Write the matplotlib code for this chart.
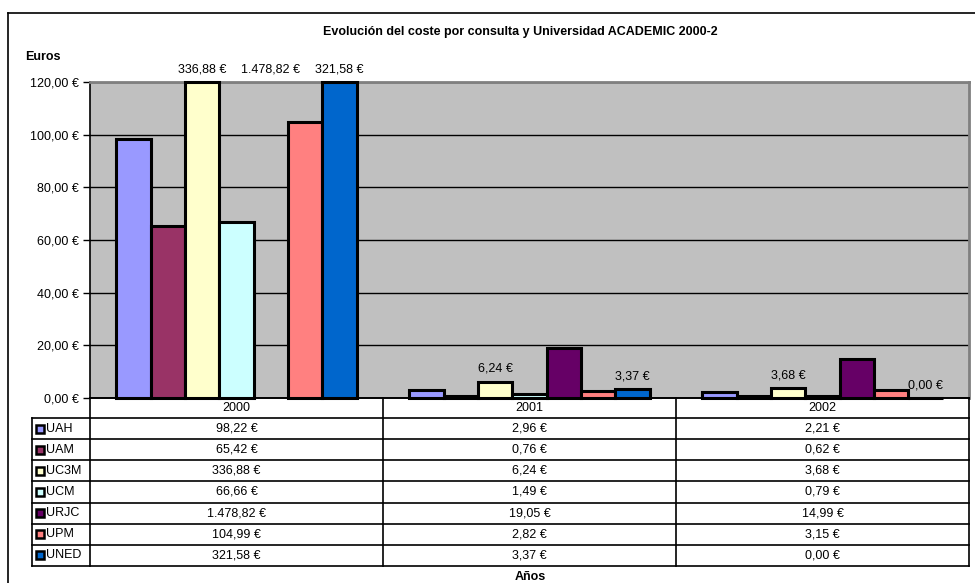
import matplotlib
matplotlib.use("Agg")
import matplotlib.pyplot as plt
from matplotlib.lines import Line2D
from matplotlib.patches import Rectangle

plt.rcParams['font.family'] = ['Liberation Sans', 'DejaVu Sans']

years = ["2000", "2001", "2002"]
universities = ["UAH", "UAM", "UC3M", "UCM", "URJC", "UPM", "UNED"]
uah = [98.22, 2.96, 2.21]
uam = [65.42, 0.76, 0.62]
uc3m = [336.88, 6.24, 3.68]
ucm = [66.66, 1.49, 0.79]
urjc = [1478.82, 19.05, 14.99]
upm = [104.99, 2.82, 3.15]
uned = [321.58, 3.37, 0.00]
series = [uah, uam, uc3m, ucm, urjc, upm, uned]
colors = ["#9999FF", "#993366", "#FFFFCC", "#CCFFFF", "#660066", "#FF8080", "#0066CC"]
# which (series, year) pairs carry a data label in the original
labelled = [("UC3M", 0), ("UC3M", 1), ("UC3M", 2), ("URJC", 0),
            ("UNED", 0), ("UNED", 1), ("UNED", 2)]
yticks = [0, 20, 40, 60, 80, 100, 120]
title = "Evolución del coste por consulta y Universidad ACADEMIC 2000-2"

W, H = 975, 583
FS = 9.0


def fmt(v):
    s = f"{v:,.2f}"
    s = s.replace(",", "X").replace(".", ",").replace("X", ".")
    return s + " €"


def fx(px):
    return px / W


def fy(py):
    return 1 - py / H


fig = plt.figure(figsize=(W / 100, H / 100), dpi=100)
fig.patch.set_facecolor("white")

# plot area
L, R, T, B = 90, 969, 82, 398
ax = fig.add_axes([fx(L), fy(B), fx(R) - fx(L), fy(T) - fy(B)])
ax.set_facecolor("#C0C0C0")
ymax = 120
ax.set_ylim(0, ymax)
ax.set_xlim(-0.5, 2.5)
ax.set_yticks(yticks)
ax.set_yticklabels([fmt(t) for t in yticks], fontsize=FS)
ax.set_xticks([])
ax.tick_params(axis='y', length=5, width=1, direction='out', pad=3)
ax.grid(axis='y', color='black', linewidth=1)
ax.set_axisbelow(True)
for side in ['top', 'right']:
    ax.spines[side].set_color('#808080')
    ax.spines[side].set_linewidth(2)
ax.spines['left'].set_linewidth(1.2)
ax.spines['bottom'].set_linewidth(1.2)

n = len(series)
w = 34.3 / 293.0
for i, (name, vals, c) in enumerate(zip(universities, series, colors)):
    for g, v in enumerate(vals):
        xc = g + (i - (n - 1) / 2) * w
        # Excel does not render bars far beyond the axis maximum
        if v <= 10 * ymax:
            ax.bar(xc, min(v, ymax), width=w, color=c, edgecolor='black',
                   linewidth=2.2, zorder=3, clip_on=False)
        if (name, g) in labelled:
            top = min(v, ymax)
            ax.annotate(fmt(v), (xc, top), xytext=(0, 5), textcoords='offset points',
                        ha='center', va='bottom', fontsize=FS, clip_on=False,
                        annotation_clip=False)

# data table
TL, TB = 32, 566
tax = fig.add_axes([fx(TL), fy(TB), fx(R) - fx(TL), fy(B) - fy(TB)])
tax.set_xlim(TL, R)
tax.set_ylim(TB, B)
tax.axis('off')
hdr = 418
rowh = (TB - hdr) / n
colw = (R - L) / len(years)
lw = 1.2
# header row
tax.plot([L, R], [B, B], color='black', lw=lw, clip_on=False)
for k in range(len(years) + 1):
    xk = L + k * colw
    tax.plot([xk, xk], [B, TB], color='black', lw=lw, clip_on=False)
for k, yname in enumerate(years):
    tax.text(L + (k + 0.5) * colw, (B + hdr) / 2, yname, ha='center', va='center', fontsize=FS)
# rows
for r in range(n + 1):
    yr = hdr + r * rowh
    tax.plot([TL, R], [yr, yr], color='black', lw=lw, clip_on=False)
tax.plot([TL, TL], [hdr, TB], color='black', lw=lw, clip_on=False)
for r, (name, vals, c) in enumerate(zip(universities, series, colors)):
    yc = hdr + (r + 0.5) * rowh
    tax.add_patch(Rectangle((36, yc - 4), 8, 8, facecolor=c, edgecolor='black',
                            lw=1.8, clip_on=False))
    tax.text(46, yc, name, ha='left', va='center', fontsize=FS)
    for k, v in enumerate(vals):
        tax.text(L + (k + 0.5) * colw, yc, fmt(v), ha='center', va='center', fontsize=FS)

# texts
fig.text(fx(520), fy(32), title, ha='center', va='center', fontsize=FS, fontweight='bold')
fig.text(fx(25), fy(57), "Euros", ha='left', va='center', fontsize=FS, fontweight='bold')
fig.text(fx(530), fy(577), "Años", ha='center', va='center', fontsize=FS, fontweight='bold')

# outer chart frame
fig.add_artist(Line2D([fx(8), 1], [fy(13), fy(13)], color='black', lw=1.2, transform=fig.transFigure))
fig.add_artist(Line2D([fx(8), fx(8)], [fy(13), 0], color='black', lw=1.2, transform=fig.transFigure))

fig.savefig("out.png", dpi=100)
